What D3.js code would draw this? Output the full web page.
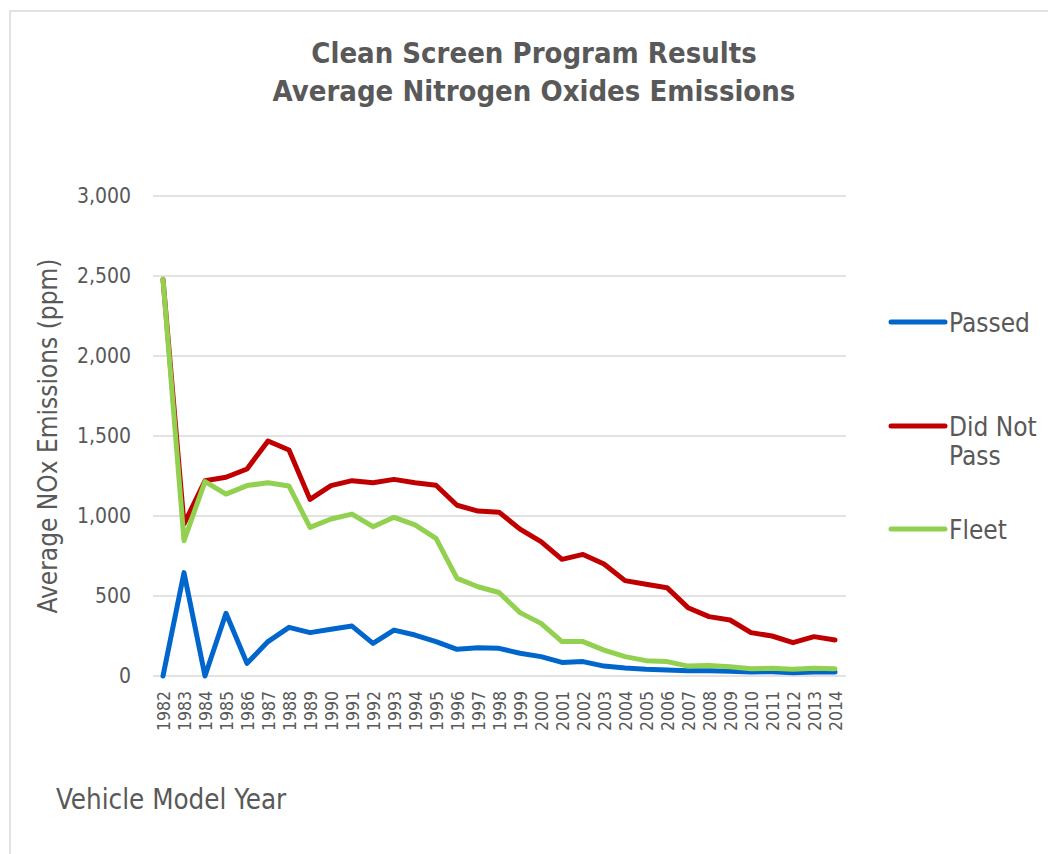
<!DOCTYPE html>
<html>
<head>
<meta charset="utf-8">
<script src="https://cdn.jsdelivr.net/npm/d3@7"></script>
<style>
  body { margin: 0; background: #fff; }
  svg { display: block; font-family: "DejaVu Sans Condensed", "DejaVu Sans", sans-serif; }
</style>
</head>
<body>
<div id="chart"></div>
<script>
// Data
const years = d3.range(1982, 2015).map(String);
const passed = [0, 646, 0, 392, 79, 215, 304, 271, 292, 312, 204, 287, 256, 215, 167, 177, 173,
  142, 121, 85, 90, 62, 50, 42, 38, 33, 33, 30, 25, 27, 21, 25, 25];
const didNotPass = [2480, 950, 1220, 1242, 1294, 1469, 1412, 1104, 1190, 1221, 1208, 1229, 1208, 1192, 1067, 1031, 1024,
  918, 840, 729, 760, 700, 596, 573, 552, 427, 371, 350, 271, 250, 208, 246, 225];
const fleet = [2480, 846, 1215, 1137, 1190, 1208, 1187, 929, 981, 1012, 933, 992, 944, 860, 610, 558, 522,
  396, 329, 215, 215, 162, 121, 96, 90, 62, 65, 58, 46, 48, 42, 48, 46];
const yTicks = [0, 500, 1000, 1500, 2000, 2500, 3000];

const series = [
  { name: ["Passed"], values: passed, color: "#0066CC", ly: 322 },
  { name: ["Did Not", "Pass"], values: didNotPass, color: "#C00000", ly: 426 },
  { name: ["Fleet"], values: fleet, color: "#92D050", ly: 529 }
];

const width = 1048, height = 854;
const textColor = "#595959";

const svg = d3.select("#chart").append("svg")
    .attr("width", width)
    .attr("height", height);

// chart frame
svg.append("rect")
    .attr("x", 10).attr("y", 11)
    .attr("width", 1100).attr("height", 900)
    .attr("fill", "none")
    .attr("stroke", "#d9d9d9")
    .attr("stroke-width", 1.5);

const x = d3.scalePoint()
    .domain(years)
    .range([163, 835]);

const y = d3.scaleLinear()
    .domain([0, 3000])
    .range([676, 196]);

// gridlines
svg.append("g")
    .selectAll("line")
    .data(yTicks)
    .join("line")
    .attr("x1", 153).attr("x2", 846)
    .attr("y1", d => y(d)).attr("y2", d => y(d))
    .attr("stroke", "#d9d9d9")
    .attr("stroke-width", 1.5);

// y axis labels
const yAxis = svg.append("g")
    .attr("transform", "translate(131,0)")
    .call(d3.axisLeft(y).tickValues(yTicks).tickFormat(d3.format(",")).tickSize(0).tickPadding(0));
yAxis.select(".domain").remove();
yAxis.selectAll("text")
    .attr("fill", textColor)
    .style("font-family", "'DejaVu Sans Condensed', sans-serif")
    .style("font-size", "21px");

// x axis labels (vertical)
const xAxis = svg.append("g")
    .attr("transform", "translate(0,676)")
    .call(d3.axisBottom(x).tickSize(0).tickPadding(0));
xAxis.select(".domain").remove();
xAxis.selectAll("text")
    .attr("fill", textColor)
    .style("font-family", "'DejaVu Sans Condensed', sans-serif")
    .style("font-size", "17.5px")
    .attr("transform", "rotate(-90)")
    .attr("text-anchor", "end")
    .attr("x", -15)
    .attr("y", 0)
    .attr("dy", "0.35em");

// lines
const line = d3.line()
    .x((d, i) => x(years[i]))
    .y(d => y(d));

svg.append("g")
    .selectAll("path")
    .data(series)
    .join("path")
    .attr("d", d => line(d.values))
    .attr("fill", "none")
    .attr("stroke", d => d.color)
    .attr("stroke-width", 5)
    .attr("stroke-linejoin", "round")
    .attr("stroke-linecap", "round");

// title
svg.append("text")
    .attr("x", 534).attr("text-anchor", "middle")
    .attr("fill", textColor)
    .style("font-size", "29px").style("font-weight", "bold")
    .selectAll("tspan")
    .data(["Clean Screen Program Results", "Average Nitrogen Oxides Emissions"])
    .join("tspan")
    .attr("x", 534)
    .attr("y", (d, i) => 63 + i * 38)
    .text(d => d);

// axis titles
svg.append("text")
    .attr("transform", "translate(57,436) rotate(-90)")
    .attr("text-anchor", "middle")
    .attr("fill", textColor)
    .style("font-size", "26px")
    .text("Average NOx Emissions (ppm)");

svg.append("text")
    .attr("x", 56).attr("y", 809)
    .attr("fill", textColor)
    .style("font-size", "27.5px")
    .text("Vehicle Model Year");

// legend
const legend = svg.append("g")
    .selectAll("g")
    .data(series)
    .join("g")
    .attr("transform", d => `translate(0,${d.ly})`);

legend.append("line")
    .attr("x1", 891).attr("x2", 945)
    .attr("stroke", d => d.color)
    .attr("stroke-width", 5)
    .attr("stroke-linecap", "round");

legend.append("text")
    .attr("fill", textColor)
    .style("font-size", "26px")
    .selectAll("tspan")
    .data(d => d.name)
    .join("tspan")
    .attr("x", 949)
    .attr("y", (d, i) => 10 + i * 29)
    .text(d => d);
</script>
</body>
</html>
